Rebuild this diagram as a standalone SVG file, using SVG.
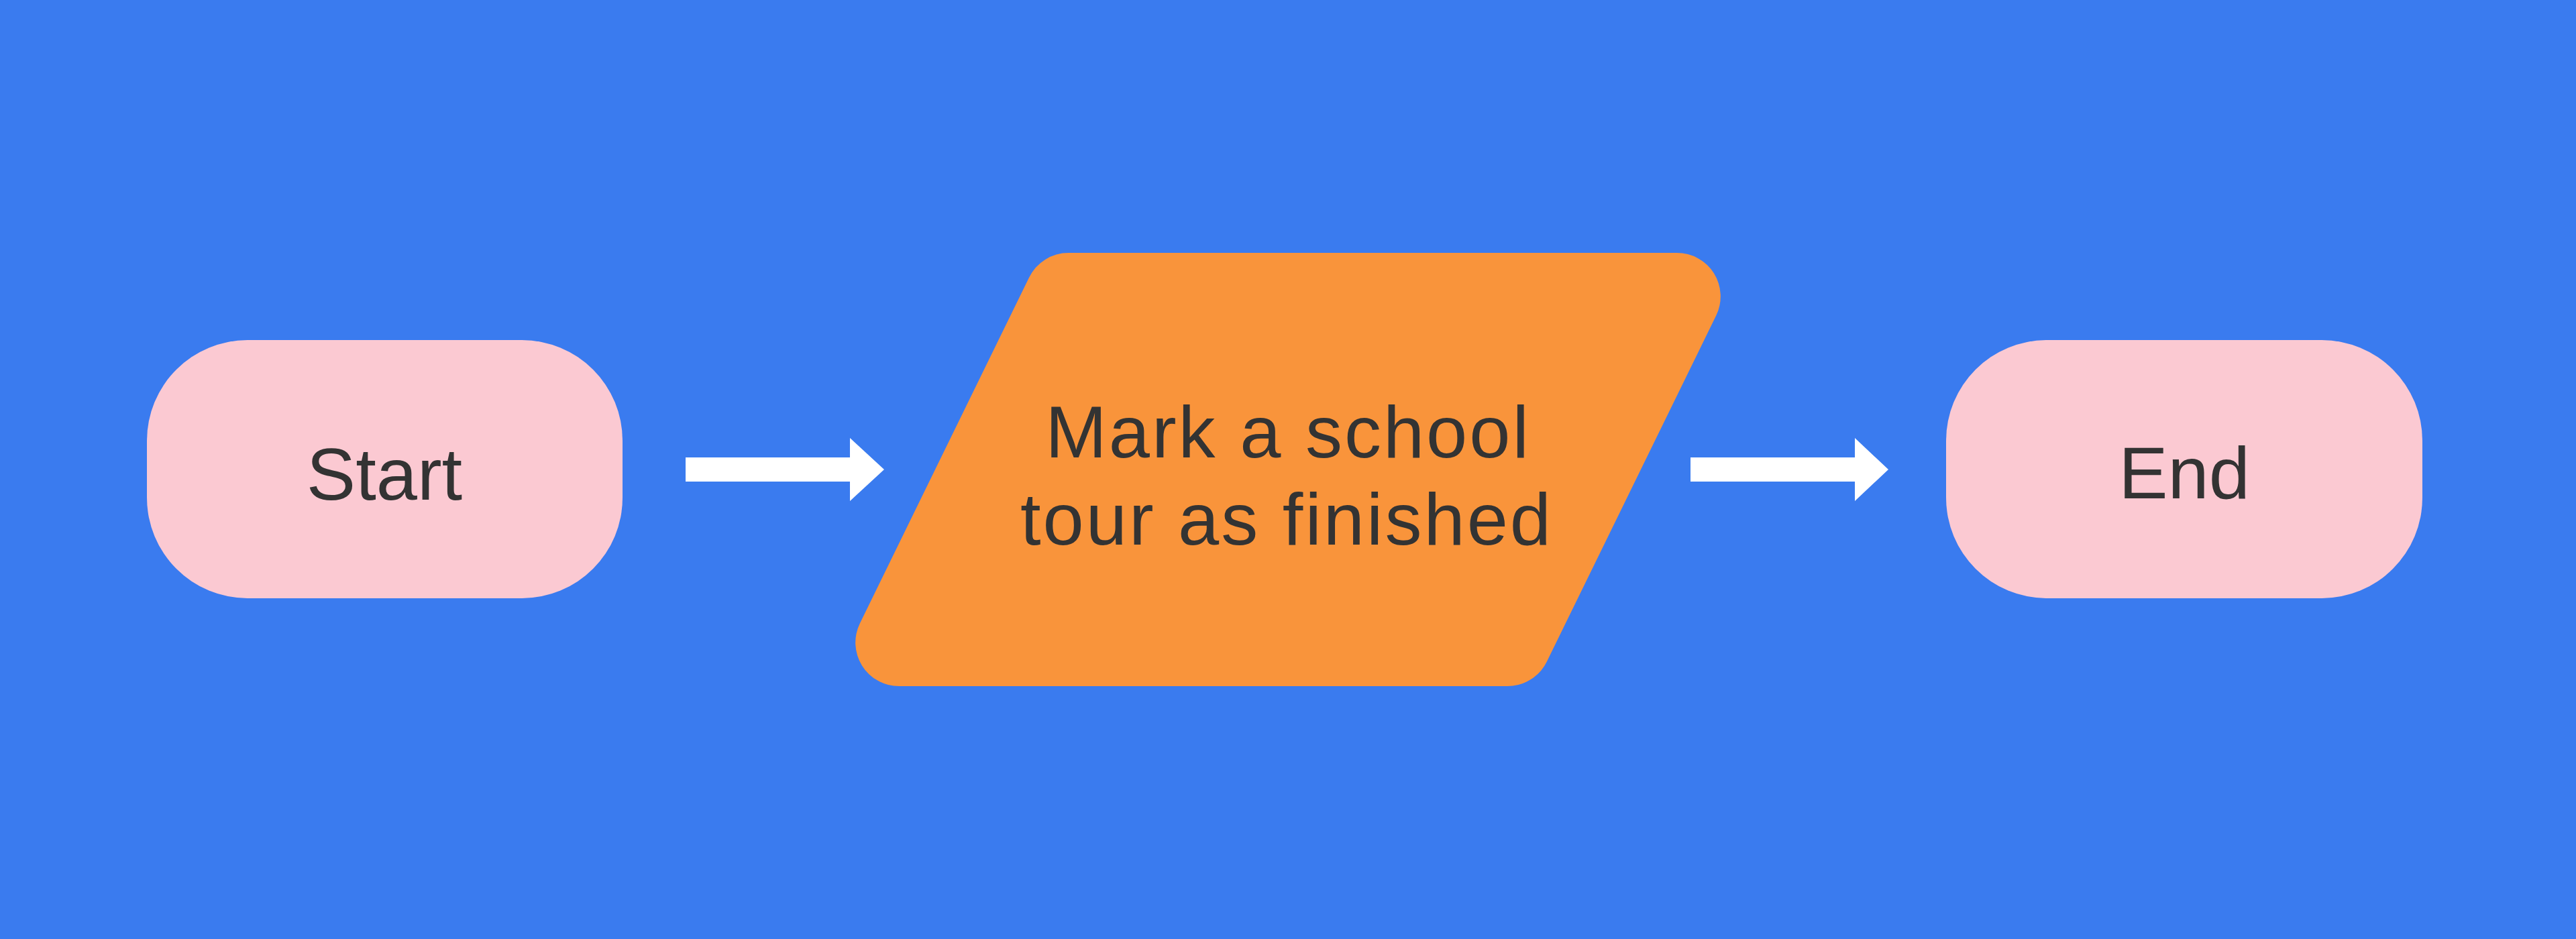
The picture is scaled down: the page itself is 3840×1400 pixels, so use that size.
<svg xmlns="http://www.w3.org/2000/svg" width="3840" height="1400" viewBox="0 0 3840 1400">
  <style>
    .terminal { fill: #FBC9D2; }
    .process { fill: #F9943B; }
    .label { font-family: "Liberation Sans", Arial, sans-serif; font-size: 110px; fill: #333333; text-anchor: middle; }
    .wide { letter-spacing: 3px; }
    .arrow { fill: #FFFFFF; }
  </style>
  <rect x="0" y="0" width="3840" height="1400" fill="#3A7BEF"/>
  <g id="connectors">
    <polygon class="arrow" points="1022,682 1267,682 1267,653 1318,700 1267,747 1267,718 1022,718"/>
    <polygon class="arrow" points="2520,682 2765,682 2765,653 2815,700 2765,747 2765,718 2520,718"/>
  </g>
  <g id="node-start">
    <rect class="terminal" x="219" y="507" width="709" height="385" rx="150" ry="150"/>
    <text class="label" x="573" y="745">Start</text>
  </g>
  <g id="node-process">
    <path class="process" d="M 1592.6 377 L 2499.8 377 A 65 65 0 0 1 2558.2 470.6 L 2305.8 986.5 A 65 65 0 0 1 2247.4 1023 L 1340.2 1023 A 65 65 0 0 1 1281.8 929.4 L 1534.2 413.5 A 65 65 0 0 1 1592.6 377 Z"/>
    <text class="label wide" x="1920" y="682">Mark a school</text>
    <text class="label wide" x="1918" y="812">tour as finished</text>
  </g>
  <g id="node-end">
    <rect class="terminal" x="2901" y="507" width="710" height="385" rx="150" ry="150"/>
    <text class="label" x="3256" y="743">End</text>
  </g>
</svg>
